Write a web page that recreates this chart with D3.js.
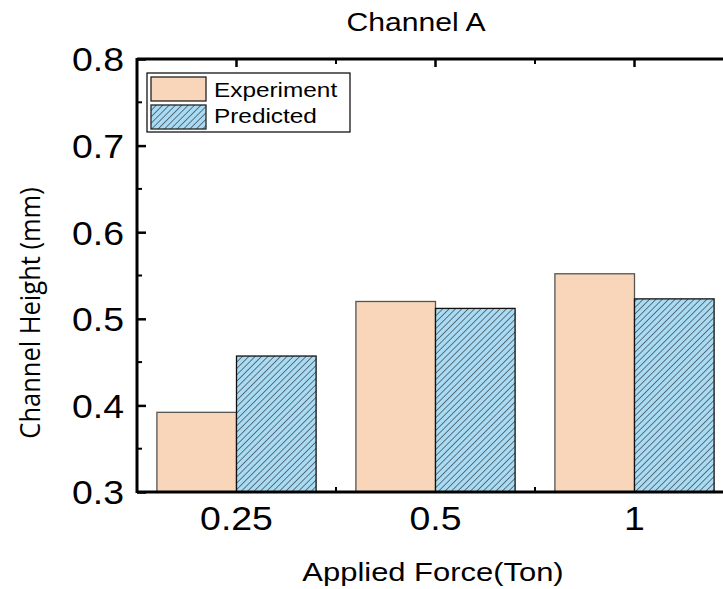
<!DOCTYPE html>
<html>
<head>
<meta charset="utf-8">
<script src="https://cdn.jsdelivr.net/npm/d3@7"></script>
<style>
  body { margin: 0; background: #fff; }
  text { font-family: "Liberation Sans", Arial, sans-serif; fill: #000; }
</style>
</head>
<body>
<svg id="chart" width="723" height="589"></svg>
<script>
// data
const forces = ["0.25", "0.5", "1"];
const experiment = [0.392, 0.520, 0.552];
const predicted = [0.457, 0.512, 0.523];
const seriesNames = ["Experiment", "Predicted"];
const yTicks = [0.3, 0.4, 0.5, 0.6, 0.7, 0.8];

const svg = d3.select("#chart");
const plotLeft = 137, plotTop = 59, plotBottom = 492, plotRight = 734;
const stretch = 1.16; // the reference text is a bit wide

const defs = svg.append("defs");
const pat = defs.append("pattern")
    .attr("id", "hatch")
    .attr("patternUnits", "userSpaceOnUse")
    .attr("width", 4.5).attr("height", 4.5)
    .attr("patternTransform", "rotate(45)");
pat.append("rect").attr("width", 4.5).attr("height", 4.5).attr("fill", "#a9dcf4");
pat.append("line")
    .attr("x1", 0).attr("y1", 0).attr("x2", 0).attr("y2", 4.5)
    .attr("stroke", "#1a1a1a").attr("stroke-width", 1.1);

const fills = ["#f9d6b9", "url(#hatch)"];

const x = d3.scaleBand().domain(forces).range([plotLeft, plotRight])
    .paddingInner(0.2).paddingOuter(0.1);
const xs = d3.scaleBand().domain(seriesNames).range([0, x.bandwidth()]);
const y = d3.scaleLinear().domain([0.3, 0.8]).range([plotBottom, plotTop]);

// bars
const rows = forces.map((f, i) => ({ f, vals: [experiment[i], predicted[i]] }));
const g = svg.append("g");
rows.forEach(r => {
    r.vals.forEach((v, j) => {
        g.append("rect")
            .attr("x", x(r.f) + xs(seriesNames[j]))
            .attr("y", y(v))
            .attr("width", xs.bandwidth())
            .attr("height", plotBottom - y(v))
            .attr("fill", fills[j])
            .attr("stroke", j === 0 ? "#555" : "#111")
            .attr("stroke-width", 1.3);
    });
});

// y axis (ticks inside)
const yAxis = d3.axisRight(y).tickValues(yTicks).tickSize(9).tickFormat(d3.format(".1f"));
const yG = svg.append("g").attr("transform", `translate(${plotLeft},0)`).call(yAxis);
yG.select(".domain").remove();
yG.selectAll(".tick line").attr("stroke-width", 2.5);
yG.selectAll(".tick text")
    .attr("x", -13 / 1.1).attr("text-anchor", "end")
    .attr("transform", "scale(1.1,1)")
    .attr("font-size", 34).attr("dy", "0.35em");
const yMinor = d3.range(0, 5).map(i => 0.35 + i * 0.1);
svg.append("g").selectAll("line").data(yMinor).join("line")
    .attr("x1", plotLeft).attr("x2", plotLeft + 5)
    .attr("y1", d => y(d)).attr("y2", d => y(d))
    .attr("stroke", "#000").attr("stroke-width", 2);

// x axis
const xAxis = d3.axisBottom(x).tickSize(0);
const xG = svg.append("g").attr("transform", `translate(0,${plotBottom})`).call(xAxis);
xG.select(".domain").remove();
xG.selectAll(".tick text")
    .attr("font-size", 34).attr("y", 38).attr("dy", 0)
    .attr("transform", "scale(1.1,1)");

// top ticks (major at category centers, minor between)
const centers = forces.map(f => x(f) + x.bandwidth() / 2);
const between = centers.slice(0, -1).map((c, i) => (c + centers[i + 1]) / 2);
svg.append("g").selectAll("line").data(centers).join("line")
    .attr("x1", d => d).attr("x2", d => d)
    .attr("y1", plotTop).attr("y2", plotTop + 8)
    .attr("stroke", "#000").attr("stroke-width", 2.5);
svg.append("g").selectAll("line").data(between).join("line")
    .attr("x1", d => d).attr("x2", d => d)
    .attr("y1", plotTop).attr("y2", plotTop + 5)
    .attr("stroke", "#000").attr("stroke-width", 2);
svg.append("g").selectAll("line").data(between).join("line")
    .attr("x1", d => d).attr("x2", d => d)
    .attr("y1", plotBottom).attr("y2", plotBottom - 5)
    .attr("stroke", "#000").attr("stroke-width", 2);

// frame
svg.append("line").attr("x1", plotLeft).attr("x2", plotLeft).attr("y1", plotTop - 1).attr("y2", plotBottom + 1)
    .attr("stroke", "#000").attr("stroke-width", 3);
svg.append("line").attr("x1", plotLeft).attr("x2", 723).attr("y1", plotBottom).attr("y2", plotBottom)
    .attr("stroke", "#000").attr("stroke-width", 3);
svg.append("line").attr("x1", plotLeft).attr("x2", 723).attr("y1", plotTop).attr("y2", plotTop)
    .attr("stroke", "#000").attr("stroke-width", 3);

// legend
const lg = svg.append("g");
lg.append("rect").attr("x", 147).attr("y", 73).attr("width", 203).attr("height", 59)
    .attr("fill", "#fff").attr("stroke", "#000").attr("stroke-width", 1.2);
seriesNames.forEach((s, i) => {
    lg.append("rect").attr("x", 151).attr("y", 77 + i * 28).attr("width", 55).attr("height", 24)
        .attr("fill", fills[i]).attr("stroke", "#222").attr("stroke-width", 1.3);
    lg.append("text")
        .attr("transform", `translate(214,${97 + i * 26}) scale(${stretch},1)`)
        .attr("font-size", 21).text(s);
});

// titles
svg.append("text")
    .attr("transform", `translate(416,31) scale(${stretch},1)`)
    .attr("text-anchor", "middle")
    .attr("font-size", 26).text("Channel A");
svg.append("text")
    .attr("transform", `translate(433,581) scale(${stretch + 0.03},1)`)
    .attr("text-anchor", "middle")
    .attr("font-size", 26).text("Applied Force(Ton)");
svg.append("text")
    .attr("transform", `translate(40,313) scale(1.08,1) rotate(-90)`)
    .attr("text-anchor", "middle").attr("font-size", 25.5)
    .style("font-family", "'Open Sans', sans-serif")
    .text("Channel Height (mm)");
</script>
</body>
</html>
